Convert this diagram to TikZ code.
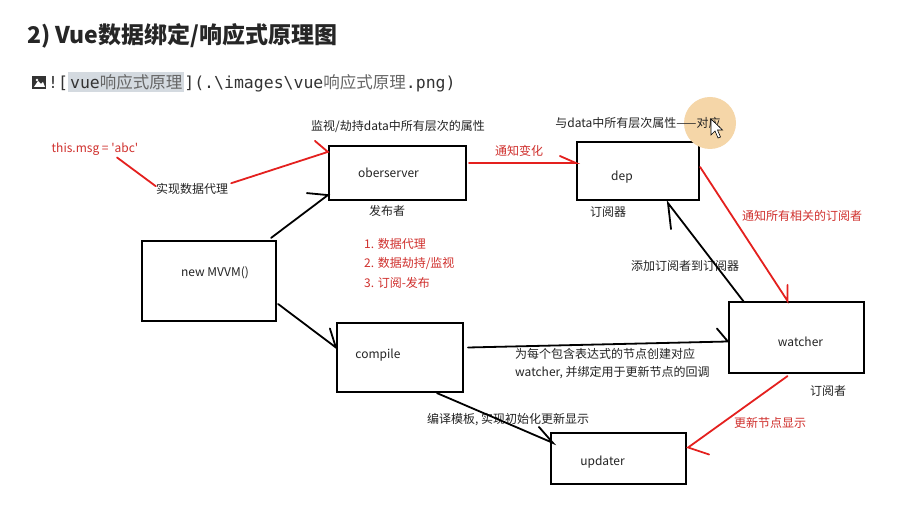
\documentclass[tikz,border=0pt]{standalone}
\usepackage{fontspec}
\setmainfont{Noto Sans CJK SC}[Ligatures=TeXOff]
\newfontfamily\codefont{DejaVu Sans Mono}
\newfontfamily\cjkfont{Noto Sans CJK SC}
\definecolor{redline}{RGB}{228,32,30}
\definecolor{redtext}{RGB}{208,48,45}
\definecolor{hlgray}{RGB}{212,218,224}
\definecolor{peach}{RGB}{245,214,168}
\definecolor{inkgray}{RGB}{35,35,35}
\tikzset{
  box/.style={draw, line width=2.2pt, inner sep=0pt},
  lbl/.style={font=\fontsize{12}{14}\selectfont, inner sep=0pt, text=inkgray},
  redlbl/.style={lbl, text=redtext},
  link/.style={line width=1.8pt, line cap=round},
  redlink/.style={link, draw=redline},
}
\begin{document}
\begin{tikzpicture}[x=1pt,y=-1pt]
\useasboundingbox[fill=white] (0,0) rectangle (922,518);

\node[anchor=west, inner sep=0pt, font=\fontsize{23}{26}\selectfont\bfseries, text=black!85] (title) at (27,36) {2) Vue数据绑定/响应式原理图};

\fill[black!80] (32,76) rectangle (46,89);
\fill[white] (34,87) -- (38,81) -- (41,84) -- (43,82) -- (45,87) -- cycle;
\fill[white] (37,80) circle (1.3);
\node[anchor=west, inner sep=0pt, font=\fontsize{16.5}{19}\selectfont, text=black!80] (mdlink) at (48,82)
  {\codefont ![\setlength{\fboxsep}{2pt}\colorbox{hlgray}{vue\cjkfont\color{black!60}响应式原理}](.\textbackslash images\textbackslash vue{\cjkfont\color{black!60}响应式原理}.png)};

% boxes
\node[box, minimum width=137pt, minimum height=54pt] (obs) at (397.5,173) {};
\node[box, minimum width=122pt, minimum height=58pt] (dep) at (638,171) {};
\node[box, minimum width=134pt, minimum height=80pt] (mvvm) at (209,281) {};
\node[box, minimum width=126pt, minimum height=69pt] (compile) at (400,357.5) {};
\node[box, minimum width=135pt, minimum height=71pt] (watcher) at (796.5,337.5) {};
\node[box, minimum width=135pt, minimum height=51pt] (updater) at (618.5,458.5) {};

\node[lbl] (obs-t) at ([xshift=-9pt]obs.center) {oberserver};
\node[lbl] (dep-t) at ([xshift=-16pt,yshift=-6pt]dep.center) {dep};
\node[lbl] (mvvm-t) at ([xshift=6pt,yshift=8pt]mvvm.center) {new MVVM()};
\node[lbl] (compile-t) at ([xshift=-22pt,yshift=2pt]compile.center) {compile};
\node[lbl] (watcher-t) at ([xshift=4pt,yshift=-4pt]watcher.center) {watcher};
\node[lbl] (updater-t) at ([xshift=-16pt,yshift=-4pt]updater.center) {updater};

% labels
\node[redlbl] (msg) at (95,149) {this.msg = 'abc'};
\node[lbl] (proxy) at (192,189) {实现数据代理};
\node[lbl] (hijack) at (398,127) {监视/劫持data中所有层次的属性};
\node[lbl] (pub) at (387,211) {发布者};
\node[redlbl, anchor=west] (step1) at (364,244) {1. 数据代理};
\node[redlbl, anchor=west] (step2) at (364,264) {2. 数据劫持/监视};
\node[redlbl, anchor=west] (step3) at (364,283) {3. 订阅-发布};
\fill[peach] (710,123) circle (26);
\node[lbl] (match) at (638,123) {与data中所有层次属性——对应};
\draw[fill=white, line width=0.6pt] (711,119) -- (711,135) -- (715,131) -- (718,138) -- (720.5,137) -- (717.5,130) -- (722.5,130) -- cycle;
\node[redlbl] (notify) at (519,151) {通知变化};
\node[lbl] (sub-dep) at (608,212) {订阅器};
\node[lbl] (addsub) at (685,266) {添加订阅者到订阅器};
\node[redlbl] (notifyall) at (802,216) {通知所有相关的订阅者};
\node[lbl, anchor=west] (create1) at (515,354) {为每个包含表达式的节点创建对应};
\node[lbl, anchor=west] (create2) at (515,373) {watcher, 并绑定用于更新节点的回调};
\node[lbl] (sub-w) at (828,391) {订阅者};
\node[redlbl] (refresh) at (770,423) {更新节点显示};
\node[lbl, anchor=west] (tpl) at (427,420) {编译模板, 实现初始化更新显示};

% connectors
\draw[redlink] ([xshift=22pt,yshift=-2pt]msg.south) -- ([yshift=-3pt]proxy.north west);
\draw[redlink] ([xshift=3pt]proxy.north east) -- ([yshift=-7pt]obs.north west) -- ++(-13,-11);
\draw[link] ([xshift=-6pt,yshift=2pt]mvvm.north east) -- ([yshift=6pt]obs.south west) -- ++(-21,-2);
\draw[redlink] ([xshift=2pt,yshift=10pt]obs.east) -- ([yshift=8pt]dep.west) -- ++(-16,-7);
\draw[redlink] ([yshift=4pt]dep.east) -- ([xshift=-9pt]watcher.north) -- ++(0,-16);
\draw[link] ([xshift=16pt,yshift=-1pt]watcher.north west) -- ([xshift=30pt,yshift=-2pt]dep.south) -- ++(3,26);
\draw[link] ([xshift=1pt,yshift=-23pt]mvvm.east) -- ([yshift=10pt]compile.west) -- ++(-6,-19);
\draw[link] ([xshift=4pt,yshift=10pt]compile.east) -- ([yshift=-4pt]watcher.west) -- ++(-11,-13);
\draw[link] ([xshift=37pt]compile.south) -- ([xshift=3pt,yshift=-11pt]updater.north west) -- ++(-14,-16);
\draw[redlink] ([xshift=-9pt,yshift=-2pt]watcher.south) -- ([xshift=1pt,yshift=11pt]updater.east) -- ++(21,7);
\end{tikzpicture}
\end{document}
